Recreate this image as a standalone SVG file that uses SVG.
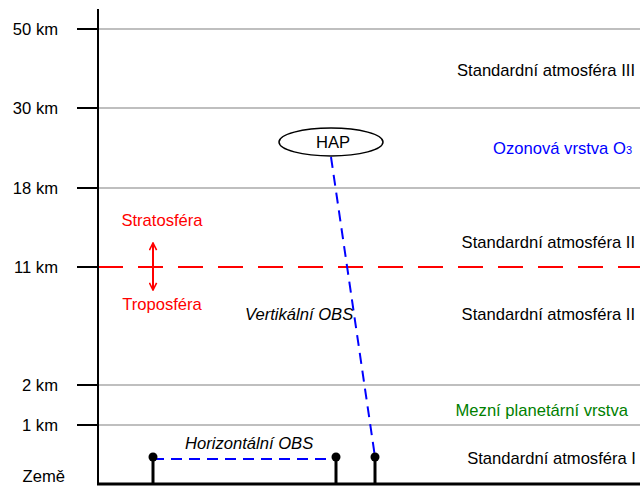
<svg xmlns="http://www.w3.org/2000/svg" width="640" height="487" viewBox="0 0 640 487">
<defs>
<style>
text{font-family:"Liberation Sans",Arial,sans-serif;font-size:16.6px;fill:#000}
.r{text-anchor:end}
.m{text-anchor:middle}
.grid{stroke:#aaa;stroke-width:1.5}
.tick{stroke:#000;stroke-width:2}
.pole{stroke:#000;stroke-width:3}
.obs{stroke:#0000ff;stroke-width:2;stroke-dasharray:11,7;fill:none}
.it{font-style:italic}
</style>
<marker id="ah" viewBox="0 0 10 10" refX="9" refY="5" markerWidth="9" markerHeight="9" orient="auto-start-reverse" markerUnits="userSpaceOnUse">
<path d="M1,1 L9,5 L1,9" fill="none" stroke="#ff0000" stroke-width="1.8"/>
</marker>
</defs>
<rect width="640" height="487" fill="#fff"/>
<g id="grid">
<line class="grid" x1="98" y1="29" x2="640" y2="29"/>
<line class="grid" x1="98" y1="108" x2="640" y2="108"/>
<line class="grid" x1="98" y1="188" x2="640" y2="188"/>
<line class="grid" x1="98" y1="385" x2="640" y2="385"/>
<line class="grid" x1="98" y1="425" x2="640" y2="425" stroke="#888"/>
<line x1="98" y1="267" x2="640" y2="267" stroke="#ff0000" stroke-width="2" stroke-dasharray="25,15"/>
</g>
<g id="axis">
<line x1="98" y1="9" x2="98" y2="485" stroke="#000" stroke-width="2"/>
<line x1="97" y1="484" x2="640" y2="484" stroke="#000" stroke-width="3"/>
<line class="tick" x1="77" y1="29" x2="98" y2="29"/>
<line class="tick" x1="77" y1="108" x2="98" y2="108"/>
<line class="tick" x1="77" y1="188" x2="98" y2="188"/>
<line class="tick" x1="77" y1="267" x2="98" y2="267"/>
<line class="tick" x1="77" y1="385" x2="98" y2="385"/>
<line class="tick" x1="77" y1="425" x2="98" y2="425"/>
</g>
<g id="labels">
<text class="r" x="58" y="35">50 km</text>
<text class="r" x="58" y="114">30 km</text>
<text class="r" x="58" y="194">18 km</text>
<text class="r" x="58" y="273">11 km</text>
<text class="r" x="58" y="391">2 km</text>
<text class="r" x="58" y="431">1 km</text>
<text class="r" x="65" y="482">Země</text>
<text class="r" x="635" y="76">Standardní atmosféra III</text>
<text class="r" x="632" y="154" style="fill:#0000ff">Ozonová vrstva O<tspan font-size="11">3</tspan></text>
<text class="r" x="635" y="248">Standardní atmosféra II</text>
<text class="r" x="635" y="320">Standardní atmosféra II</text>
<text class="r" x="628" y="416" style="fill:#008000">Mezní planetární vrstva</text>
<text class="r" x="636" y="464">Standardní atmosféra I</text>
</g>
<g id="tropopause">
<text class="m" x="162" y="226" style="fill:#ff0000">Stratosféra</text>
<text class="m" x="162" y="310" style="fill:#ff0000">Troposféra</text>
<line x1="153" y1="243" x2="153" y2="290" stroke="#ff0000" stroke-width="2" marker-start="url(#ah)" marker-end="url(#ah)"/>
</g>
<g id="connectors">
<line class="obs" x1="153" y1="459" x2="336" y2="459"/>
<line class="obs" x1="331" y1="157" x2="375" y2="457"/>
<text class="it" x="245" y="320">Vertikální OBS</text>
<text class="it" x="185" y="449">Horizontální OBS</text>
</g>
<g id="hap">
<ellipse cx="331" cy="142" rx="52" ry="14" fill="#fff" stroke="#000" stroke-width="1.5"/>
<text class="m" x="333" y="148">HAP</text>
</g>
<g id="station1">
<line class="pole" x1="153" y1="457" x2="153" y2="485"/>
<circle cx="153" cy="457" r="4.5"/>
</g>
<g id="station2">
<line class="pole" x1="336" y1="457" x2="336" y2="485"/>
<circle cx="336" cy="457" r="4.5"/>
</g>
<g id="station3">
<line class="pole" x1="375" y1="457" x2="375" y2="485"/>
<circle cx="375" cy="457" r="4.5"/>
</g>
</svg>
